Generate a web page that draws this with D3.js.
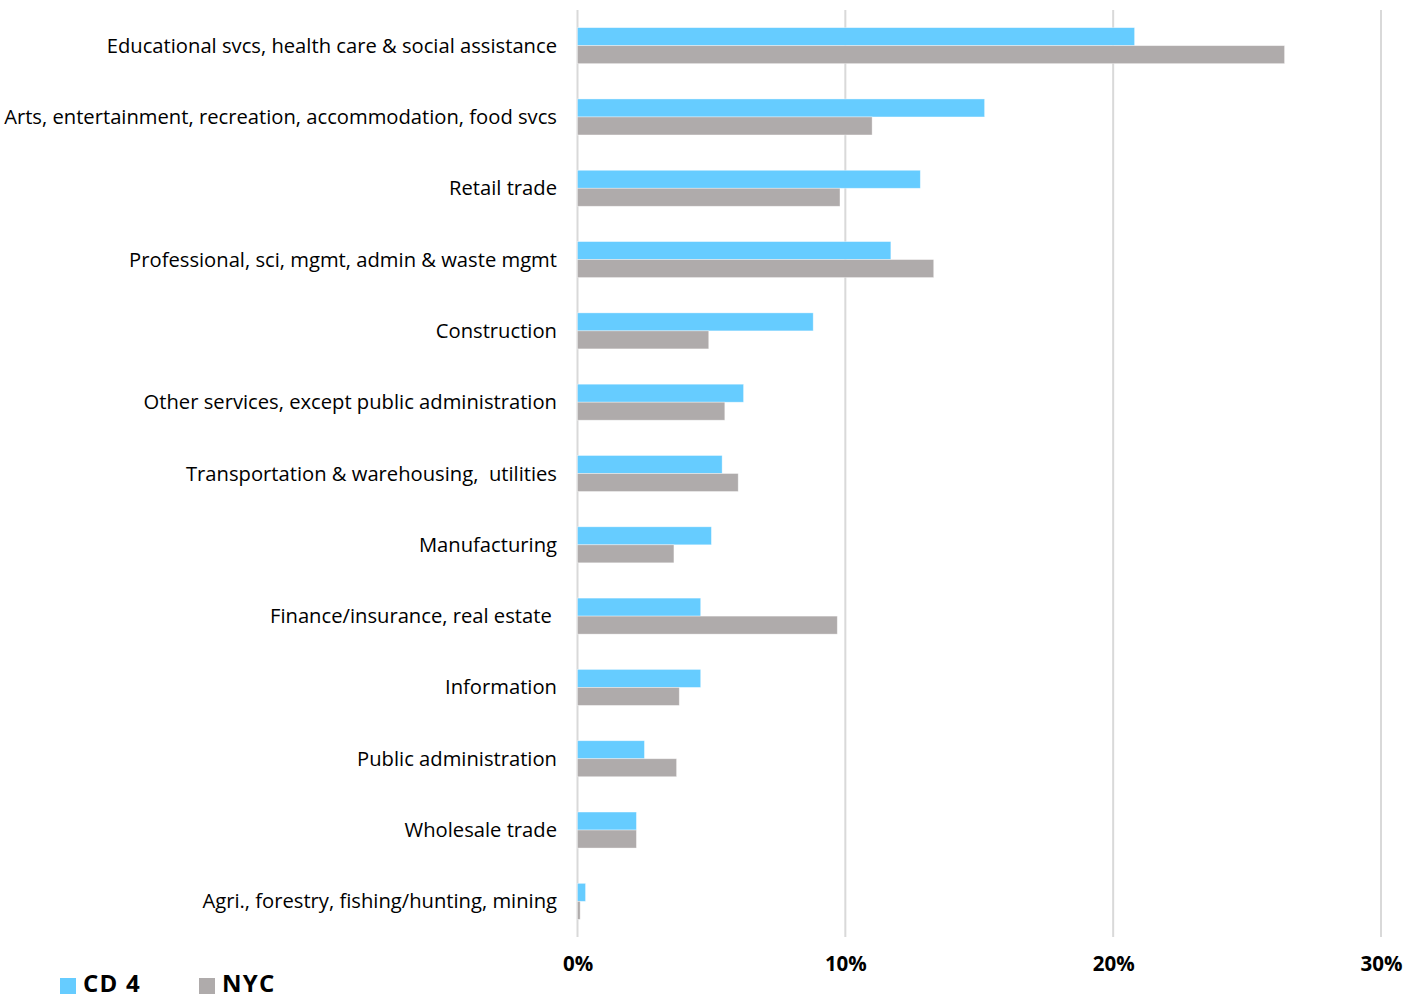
<!DOCTYPE html>
<html>
<head>
<meta charset="utf-8">
<script src="https://cdn.jsdelivr.net/npm/d3@7"></script>
<style>
  html, body { margin: 0; padding: 0; background: #fff; }
  svg { display: block; font-family: "Open Sans", "Lato", sans-serif; }
  .cat { white-space: pre; }
</style>
</head>
<body>
<svg id="chart" width="1404" height="998"></svg>
<script>
// Share of employed residents by industry: Community District 4 vs. New York City
const categories = [
  "Educational svcs, health care & social assistance",
  "Arts, entertainment, recreation, accommodation, food svcs",
  "Retail trade",
  "Professional, sci, mgmt, admin & waste mgmt",
  "Construction",
  "Other services, except public administration",
  "Transportation & warehousing,  utilities",
  "Manufacturing",
  "Finance/insurance, real estate ",
  "Information",
  "Public administration",
  "Wholesale trade",
  "Agri., forestry, fishing/hunting, mining"
];
const cd4 = [20.8, 15.2, 12.8, 11.7, 8.8, 6.2, 5.4, 5.0, 4.6, 4.6, 2.5, 2.2, 0.3];
const nyc = [26.4, 11.0, 9.8, 13.3, 4.9, 5.5, 6.0, 3.6, 9.7, 3.8, 3.7, 2.2, 0.1];
const seriesNames = ["CD 4", "NYC"];
const seriesColors = ["#66CCFF", "#AFABAB"];
const tickValues = [0, 10, 20, 30];

const svg = d3.select("#chart");
const plotLeft = 577.5, plotRight = 1381, plotTop = 10, plotBottom = 937;

const x = d3.scaleLinear().domain([0, 30]).range([plotLeft, plotRight]);
const y = d3.scaleBand().domain(categories).range([plotTop, plotBottom]).paddingInner(0.495).paddingOuter(0.2475);
const sub = d3.scaleBand().domain(seriesNames).range([0, y.bandwidth()]);

// vertical gridlines
svg.append("g").selectAll("line").data(tickValues).join("line")
  .attr("x1", d => x(d)).attr("x2", d => x(d))
  .attr("y1", plotTop).attr("y2", plotBottom)
  .attr("stroke", "#D9D9D9").attr("stroke-width", 2);

// bars
const rows = categories.map((c, i) => ({ c, vals: [cd4[i], nyc[i]] }));
const g = svg.append("g").selectAll("g").data(rows).join("g")
  .attr("transform", d => `translate(0,${y(d.c)})`);
g.selectAll("rect").data(d => d.vals.map((v, j) => ({ v, s: seriesNames[j], col: seriesColors[j] })))
  .join("rect")
  .attr("x", x(0))
  .attr("y", d => sub(d.s))
  .attr("width", d => x(d.v) - x(0))
  .attr("height", sub.bandwidth())
  .attr("fill", d => d.col)
  .attr("stroke", "#ffffff").attr("stroke-opacity", 0.5).attr("stroke-width", 0.75);

// category labels
svg.append("g").selectAll("text").data(categories).join("text")
  .attr("class", "cat")
  .attr("x", 557)
  .attr("y", d => y(d) + y.bandwidth() / 2)
  .attr("dy", "0.35em")
  .attr("text-anchor", "end")
  .attr("font-size", 20.2)
  .attr("fill", "#000")
  .text(d => d);

// x axis tick labels
const xAxis = d3.axisBottom(x).tickValues(tickValues).tickFormat(d => d + "%").tickSize(0).tickPadding(0);
const ax = svg.append("g").attr("transform", `translate(0,${plotBottom})`).call(xAxis);
ax.select(".domain").remove();
ax.selectAll("text")
  .attr("y", 27).attr("dy", "0.35em")
  .attr("font-family", "'Open Sans', sans-serif")
  .attr("font-size", 20.5).attr("font-weight", "bold").attr("fill", "#000");

// legend
const legendX = [60, 199];
const lg = svg.append("g").selectAll("g").data(seriesNames).join("g")
  .attr("transform", (d, i) => `translate(${legendX[i]},978)`);
lg.append("rect").attr("width", 16).attr("height", 16).attr("fill", (d, i) => seriesColors[i]);
lg.append("text").attr("x", 23).attr("y", 14)
  .attr("font-size", 24).attr("font-weight", "bold").attr("letter-spacing", 1.2).attr("fill", "#000")
  .text(d => d);
</script>
</body>
</html>
